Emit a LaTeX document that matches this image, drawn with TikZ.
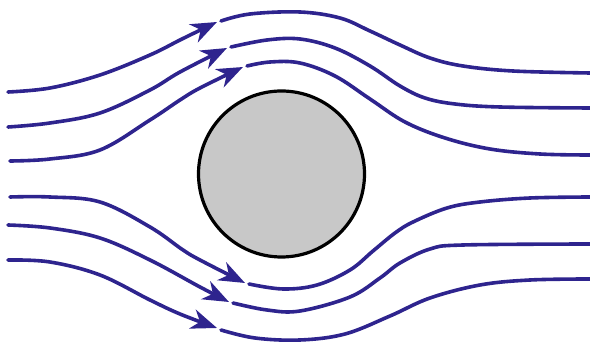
\documentclass[tikz,border=0pt]{standalone}
\usetikzlibrary{arrows.meta}
\definecolor{flow}{RGB}{46,36,142}
\definecolor{body}{RGB}{200,200,200}
\tikzset{
  stream/.style={draw=flow, line width=3.6pt, line cap=round},
  streamarr/.style={stream, -{Stealth[length=26pt,width=20pt,inset=8pt]}},
  obstacle/.style={circle, draw=black, line width=3.2pt, fill=body, minimum size=166pt, inner sep=0pt}
}
\begin{document}
\begin{tikzpicture}[x=1pt,y=-1pt]
\useasboundingbox (0,0) rectangle (590,344);
\node[obstacle] (obst) at (281.5,174) {};
% upper streamlines
\draw[streamarr] plot[smooth,tension=0.6] coordinates {(8,92) (50,88) (100,75) (150,55) (182,39) (217,22)};
\draw[stream] plot[smooth,tension=0.6] coordinates {(221,21) (250,14) (300,12) (340,18) (370,31) (400,45) (430,58) (463,66) (513,71) (590,73)};
\draw[streamarr] plot[smooth,tension=0.6] coordinates {(8,127) (50,123) (100,113) (150,90) (180,72) (227,48)};
\draw[stream] plot[smooth,tension=0.6] coordinates {(231,47) (267,40) (300,39) (335,48) (370,66) (400,86) (425,98) (455,104) (500,107) (590,108)};
\draw[streamarr] plot[smooth,tension=0.6] coordinates {(10,161) (50,159) (100,150) (150,120) (180,100) (200,88) (243,67)};
\draw[stream] plot[smooth,tension=0.6] coordinates {(247,66) (270,62) (300,63) (335,76) (370,99) (405,122) (445,138) (490,149) (540,154) (590,155)};
% lower streamlines
\draw[streamarr] plot[smooth,tension=0.6] coordinates {(10,197) (50,197) (100,202) (150,227) (183,250) (200,260) (245,283)};
\draw[stream] plot[smooth,tension=0.6] coordinates {(249,284) (283,289) (317,285) (350,270) (373,251) (395,233) (413,222) (447,208) (480,202) (530,198) (590,197)};
\draw[streamarr] plot[smooth,tension=0.6] coordinates {(8,225) (50,228) (100,238) (150,260) (200,287) (229,302)};
\draw[stream] plot[smooth,tension=0.6] coordinates {(233,303) (267,310) (300,311) (350,297) (380,278) (400,263) (430,249) (463,245) (590,244)};
\draw[streamarr] plot[smooth,tension=0.6] coordinates {(8,260) (50,262) (100,275) (150,300) (180,314) (217,328)};
\draw[stream] plot[smooth,tension=0.6] coordinates {(221,330) (255,338) (300,340) (345,334) (390,316) (430,298) (480,285) (530,280) (590,279)};
\end{tikzpicture}
\end{document}
